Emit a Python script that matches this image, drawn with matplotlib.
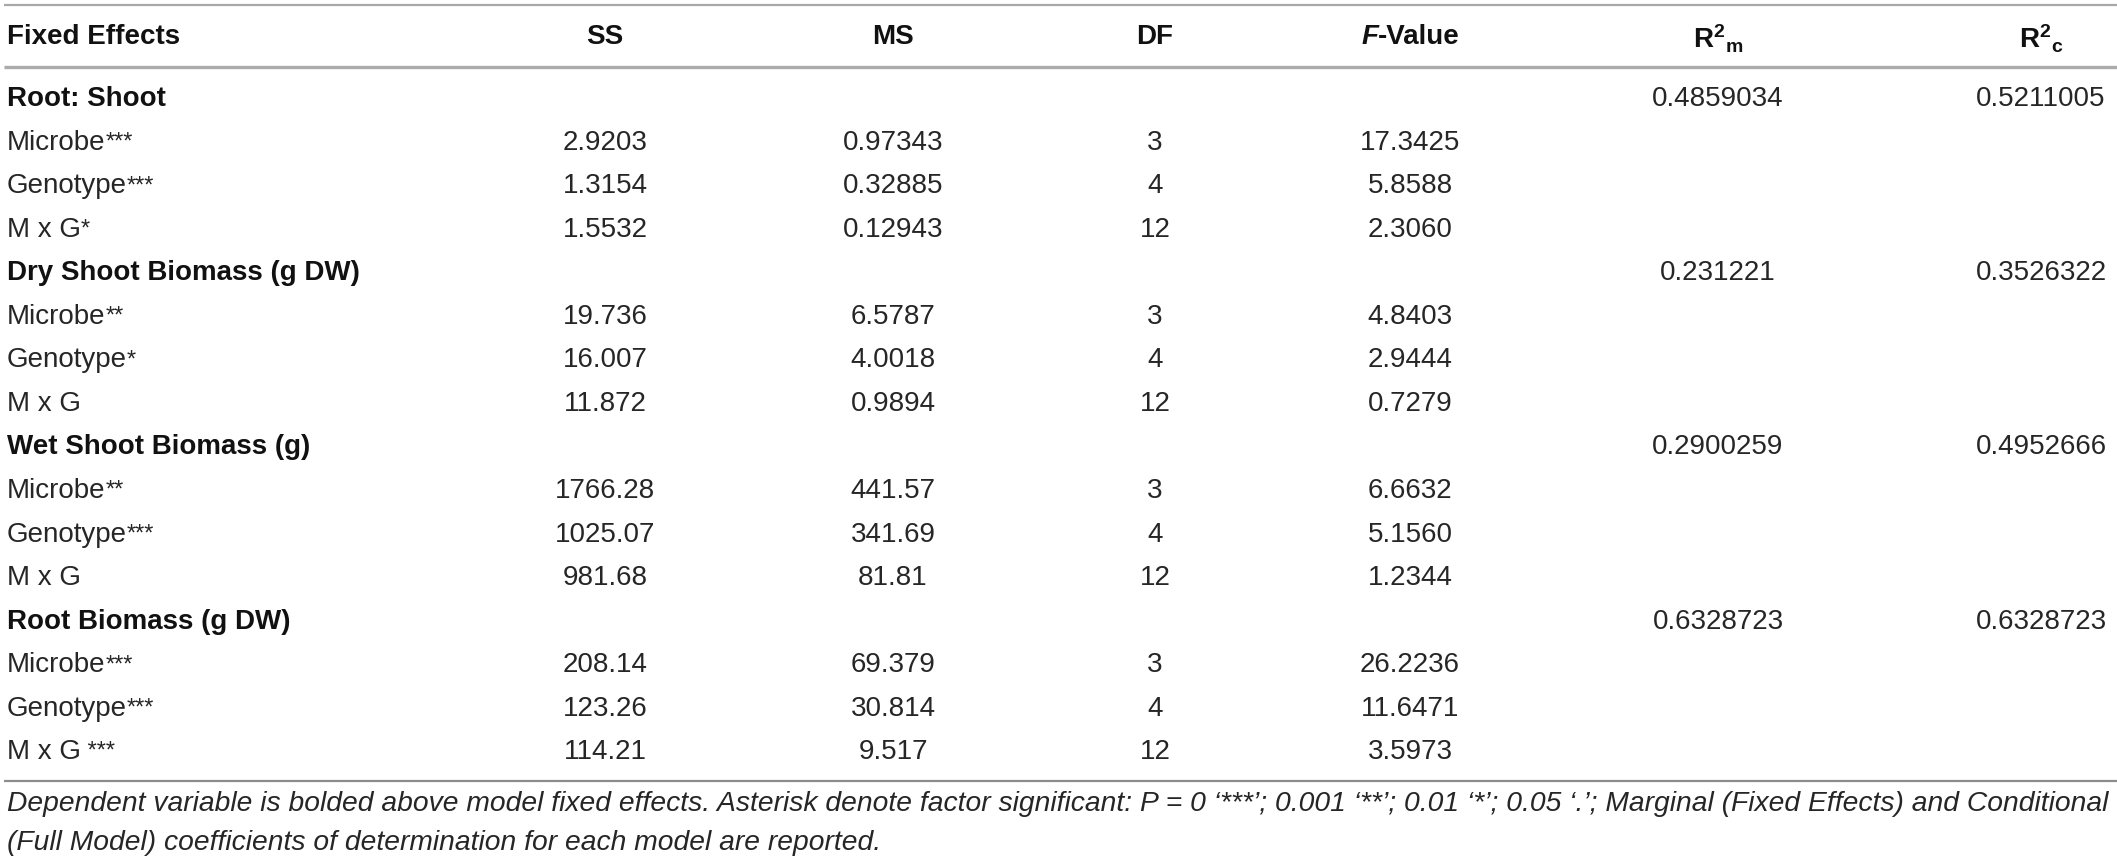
import matplotlib
matplotlib.use("Agg")
import matplotlib.pyplot as plt

plt.rcParams['font.family'] = ['Liberation Sans', 'DejaVu Sans']
plt.rcParams['mathtext.fontset'] = 'custom'
plt.rcParams['mathtext.rm'] = 'Liberation Sans'
plt.rcParams['mathtext.it'] = 'Liberation Sans:italic'
plt.rcParams['mathtext.bf'] = 'Liberation Sans:bold'

# ---- data ----
headers = ["Fixed Effects", "SS", "MS", "DF", "F-Value", "R2m", "R2c"]
sections = ["Root: Shoot", "Dry Shoot Biomass (g DW)", "Wet Shoot Biomass (g)", "Root Biomass (g DW)"]
r2m = ["0.4859034", "0.231221", "0.2900259", "0.6328723"]
r2c = ["0.5211005", "0.3526322", "0.4952666", "0.6328723"]
effects = ["Microbe", "Genotype", "M x G"]
stars = [["***", "***", "*"],
         ["**", "*", ""],
         ["**", "***", ""],
         ["***", "***", " ***"]]
ss = [["2.9203", "1.3154", "1.5532"],
      ["19.736", "16.007", "11.872"],
      ["1766.28", "1025.07", "981.68"],
      ["208.14", "123.26", "114.21"]]
ms = [["0.97343", "0.32885", "0.12943"],
      ["6.5787", "4.0018", "0.9894"],
      ["441.57", "341.69", "81.81"],
      ["69.379", "30.814", "9.517"]]
dfs = [["3", "4", "12"]] * 4
fval = [["17.3425", "5.8588", "2.3060"],
        ["4.8403", "2.9444", "0.7279"],
        ["6.6632", "5.1560", "1.2344"],
        ["26.2236", "11.6471", "3.5973"]]
footnote = ["Dependent variable is bolded above model fixed effects. Asterisk denote factor significant: "
            "P = 0 \u2018***\u2019; 0.001 \u2018**\u2019; 0.01 \u2018*\u2019; 0.05 \u2018.\u2019; "
            "Marginal (Fixed Effects) and Conditional",
            "(Full Model) coefficients of determination for each model are reported."]

# ---- layout (pixels) ----
W, H = 2117, 865
fig = plt.figure(figsize=(W / 100, H / 100), dpi=100)
ax = fig.add_axes([0, 0, 1, 1])
ax.set_xlim(0, W)
ax.set_ylim(H, 0)
ax.axis('off')

col_x = {"SS": 605, "MS": 893, "DF": 1155, "F": 1410, "R2m": 1718, "R2c": 2041}
left_x = 7
header_y = 37
row0_y = 99
row_h = 43.55
fs = 20
reg_color = '#262626'
bold_color = '#111111'

# rules
ax.plot([4, W], [5, 5], color='#a8a8a8', lw=1.6, solid_capstyle='butt')
ax.plot([4, W], [67, 67], color='#ababab', lw=2.4, solid_capstyle='butt')
ax.plot([4, W], [781, 781], color='#8c8c8c', lw=1.6, solid_capstyle='butt')

# header
hkw = dict(fontsize=fs, fontweight='bold', color=bold_color, va='center')
ax.text(left_x, header_y, headers[0], ha='left', **hkw)
ax.text(col_x["SS"], header_y, headers[1], ha='center', **hkw)
ax.text(col_x["MS"], header_y, headers[2], ha='center', **hkw)
ax.text(col_x["DF"], header_y, headers[3], ha='center', **hkw)
tv = ax.text(col_x["F"] + 9, header_y, "-Value", ha='center', **hkw)
ax.annotate("F", xy=(0, 0.5), xycoords=tv, ha='right', va='center',
            fontsize=fs, fontweight='bold', fontstyle='italic', color=bold_color)
ax.text(col_x["R2m"], header_y + 2, r"$\mathbf{R}^{\mathbf{2}}{}_{\mathbf{m}}$", ha='center',
        va='center', fontsize=fs, color=bold_color)
ax.text(col_x["R2c"], header_y + 2, r"$\mathbf{R}^{\mathbf{2}}{}_{\mathbf{c}}$", ha='center',
        va='center', fontsize=fs, color=bold_color)

# body
y = row0_y
for i, sec in enumerate(sections):
    ax.text(left_x, y, sec, ha='left', va='center', fontsize=fs, fontweight='bold', color=bold_color)
    ax.text(col_x["R2m"], y, r2m[i], ha='center', va='center', fontsize=fs, color=reg_color)
    ax.text(col_x["R2c"], y, r2c[i], ha='center', va='center', fontsize=fs, color=reg_color)
    y += row_h
    for j, eff in enumerate(effects):
        t = ax.text(left_x, y, eff, ha='left', va='center', fontsize=fs, color=reg_color)
        if stars[i][j]:
            ax.annotate(stars[i][j], xy=(1.0, 0.92), xycoords=t, ha='left', va='top',
                        fontsize=17, color=reg_color)
        ax.text(col_x["SS"], y, ss[i][j], ha='center', va='center', fontsize=fs, color=reg_color)
        ax.text(col_x["MS"], y, ms[i][j], ha='center', va='center', fontsize=fs, color=reg_color)
        ax.text(col_x["DF"], y, dfs[i][j], ha='center', va='center', fontsize=fs, color=reg_color)
        ax.text(col_x["F"], y, fval[i][j], ha='center', va='center', fontsize=fs, color=reg_color)
        y += row_h

# footnote, fitted to full width
fig.canvas.draw()
renderer = fig.canvas.get_renderer()
f1 = ax.text(left_x, 804, footnote[0], ha='left', va='center', fontsize=18,
             fontstyle='italic', color=reg_color)
bb = f1.get_window_extent(renderer)
target = 2108 - left_x
ffs = 18 * target / bb.width
f1.set_fontsize(ffs)
ax.text(left_x, 843, footnote[1], ha='left', va='center', fontsize=ffs,
        fontstyle='italic', color=reg_color)

fig.savefig("out.png", dpi=100)
